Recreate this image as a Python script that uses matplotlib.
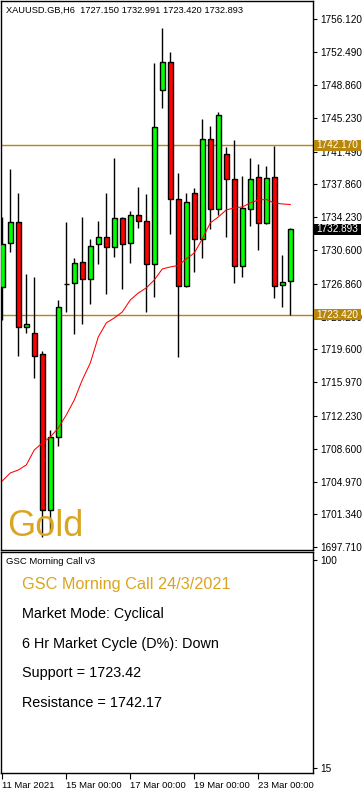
import matplotlib
matplotlib.use("Agg")
import matplotlib.pyplot as plt
from matplotlib.patches import Rectangle
import matplotlib.transforms as mtransforms

# ---------------- data ----------------
opens  = [1726.47, 1731.34, 1733.66, 1722.05, 1721.39, 1719.10, 1701.78, 1709.88, 1726.89, 1726.92,
          1729.24, 1727.36, 1731.23, 1732.01, 1730.90, 1734.11, 1731.34, 1734.44, 1733.81, 1729.02,
          1748.27, 1751.36, 1736.21, 1726.65, 1736.87, 1731.78, 1742.85, 1735.10, 1741.25, 1738.42,
          1728.80, 1735.10, 1738.71, 1733.55, 1738.64, 1726.70, 1727.150]
highs  = [1734.28, 1739.56, 1736.94, 1727.91, 1727.61, 1719.39, 1710.69, 1725.07, 1733.70, 1729.75,
          1734.28, 1731.85, 1733.84, 1736.94, 1740.81, 1734.20, 1734.91, 1737.57, 1736.83, 1751.25,
          1755.16, 1752.47, 1739.08, 1736.87, 1737.43, 1745.09, 1744.32, 1745.87, 1742.03, 1742.77,
          1738.79, 1740.81, 1740.11, 1739.89, 1742.14, 1730.05, 1732.991]
lows   = [1722.86, 1730.41, 1718.91, 1721.45, 1716.47, 1698.82, 1699.41, 1708.95, 1723.77, 1721.28,
          1722.38, 1724.66, 1729.09, 1725.73, 1729.86, 1726.29, 1729.20, 1733.07, 1723.77, 1725.43,
          1746.34, 1732.34, 1718.80, 1726.54, 1728.20, 1729.68, 1732.89, 1734.47, 1732.07, 1726.92,
          1727.65, 1733.29, 1730.60, 1733.44, 1725.32, 1724.33, 1723.420]
closes = [1731.23, 1733.66, 1722.08, 1722.38, 1718.91, 1701.78, 1709.88, 1724.26, 1726.89, 1729.13,
          1727.36, 1731.01, 1732.01, 1730.90, 1734.11, 1731.23, 1734.44, 1733.78, 1729.02, 1744.17,
          1751.36, 1736.21, 1726.65, 1735.88, 1731.78, 1742.85, 1735.10, 1745.57, 1738.42, 1728.80,
          1735.21, 1738.42, 1733.55, 1738.53, 1726.62, 1727.09, 1732.893]
ma_values = [1705.05, 1705.93, 1706.26, 1706.82, 1708.48, 1709.25, 1709.91, 1710.91, 1712.35, 1714.01,
             1716.22, 1718.10, 1720.98, 1722.53, 1723.08, 1723.74, 1725.07, 1725.84, 1726.40, 1727.28,
             1728.50, 1728.72, 1728.89, 1729.61, 1730.27, 1731.82, 1733.59, 1734.25, 1735.03, 1735.25,
             1735.36, 1735.80, 1736.13, 1736.19, 1735.80, 1735.69, 1735.63]

price_ticks = [1756.12, 1752.49, 1748.86, 1745.23, 1741.49, 1737.86, 1734.23, 1730.60, 1726.86,
               1723.23, 1719.60, 1715.97, 1712.23, 1708.60, 1704.97, 1701.34, 1697.71]
price_tick_labels = ["1756.120", "1752.490", "1748.860", "1745.230", "1741.490", "1737.860",
                     "1734.230", "1730.600", "1726.860", "1723.230", "1719.600", "1715.970",
                     "1712.230", "1708.600", "1704.970", "1701.340", "1697.710"]
x_tick_index = [0, 8, 16, 24, 32]
x_tick_labels = ["11 Mar 2021", "15 Mar 00:00", "17 Mar 00:00", "19 Mar 00:00", "23 Mar 00:00"]
support = 1723.42
resistance = 1742.17
last_close = 1732.893
header_text = "XAUUSD.GB,H6  1727.150 1732.991 1723.420 1732.893"
osc_ticks = [100, 15]
osc_tick_labels = ["100", "15"]
osc_name = "GSC Morning Call v3"
panel_title = "GSC Morning Call 24/3/2021"
panel_lines = ["Market Mode: Cyclical", "6 Hr Market Cycle (D%): Down",
               "Support = 1723.42", "Resistance = 1742.17"]
symbol_label = "Gold"

# ---------------- style ----------------
W, H = 363, 790
GOLD_LINE = "#B8860B"
GOLD_TEXT = "#DAA520"
UP = "#00FF00"
DOWN = "#FF0000"
FONT = "Liberation Sans"
plt.rcParams["font.family"] = [FONT, "DejaVu Sans"]
PX = 72.0 / 100.0  # one pixel in points

fig = plt.figure(figsize=(W / 100, H / 100), dpi=100)
fig.patch.set_facecolor("white")

def fx(px):
    return px / W

def fy(py):
    return 1 - py / H

# main price panel
left_px, right_px = 1, 313
main_top, main_bot = 1, 550
ax = fig.add_axes([fx(left_px), fy(main_bot), fx(right_px - left_px), (main_bot - main_top) / H])
# lower indicator panel
low_top, low_bot = 552, 773
ax2 = fig.add_axes([fx(left_px), fy(low_bot), fx(right_px - left_px), (low_bot - low_top) / H])

xlim = (-0.1625, 38.84)
for a in (ax, ax2):
    a.set_xlim(*xlim)
    a.set_facecolor("white")
    for s in a.spines.values():
        s.set_linewidth(1.0)
        s.set_color("black")

ax.set_ylim(1697.41, 1758.14)
ax2.set_ylim(12.8, 103.3)

# candles
body_w = 0.6
n = len(opens)
for i in range(n):
    o, h, l, c = opens[i], highs[i], lows[i], closes[i]
    ax.vlines(i, l, h, color="black", linewidth=1.0, zorder=2)
    if abs(c - o) < 1e-9:
        ax.hlines(o, i - body_w / 2, i + body_w / 2, color="black", linewidth=1.0, zorder=3)
    else:
        col = UP if c > o else DOWN
        ax.add_patch(Rectangle((i - body_w / 2, min(o, c)), body_w, abs(c - o),
                               facecolor=col, edgecolor="black", linewidth=1.0, zorder=3))

# moving average
ax.plot(range(len(ma_values)), ma_values, color="red", linewidth=0.75, zorder=4)

# support / resistance
ax.axhline(resistance, color=GOLD_LINE, linewidth=1.0, zorder=1)
ax.axhline(support, color=GOLD_LINE, linewidth=1.0, zorder=1)

# right price axis
ax.yaxis.tick_right()
ax.set_yticks(price_ticks)
ax.set_yticklabels(price_tick_labels)
ax.tick_params(axis="y", direction="out", length=3, width=0.8, pad=2, labelsize=7.2,
               colors="black")
ax.set_xticks([])

# price boxes
blend = mtransforms.blended_transform_factory(ax.transAxes, ax.transData)
box_w = 47 / (right_px - left_px)
box_h = 11 / 9.04
for val, fc in [(resistance, GOLD_LINE), (support, GOLD_LINE), (last_close, "black")]:
    ax.add_patch(Rectangle((1.003, val - box_h / 2), box_w, box_h, transform=blend,
                           facecolor=fc, edgecolor="none", clip_on=False, zorder=5))
    ax.text(1.003 + box_w / 2, val, f"{val:.3f}", transform=blend, ha="center", va="center",
            color="white", fontsize=7.2, clip_on=False, zorder=6)

# header
fig.text(fx(6), fy(10), header_text, fontsize=6.7, ha="left", va="center", color="black")

# Gold label
fig.text(fx(7), fy(536), symbol_label, fontsize=26, color=GOLD_TEXT, ha="left", va="baseline")

# lower panel
ax2.yaxis.tick_right()
ax2.set_yticks(osc_ticks)
ax2.set_yticklabels(osc_tick_labels)
ax2.tick_params(axis="y", direction="out", length=3, width=0.8, pad=2, labelsize=7.2)
ax2.set_xticks(x_tick_index)
ax2.set_xticklabels(x_tick_labels, ha="left")
ax2.tick_params(axis="x", direction="out", length=4, width=0.8, pad=1.5, labelsize=6.8)
for lab in ax2.get_xticklabels():
    lab.set_horizontalalignment("left")

fig.text(fx(6), fy(562), osc_name, fontsize=6.8, ha="left", va="center", color="black")
fig.text(fx(22), fy(588.5), panel_title, fontsize=11.7, ha="left", va="baseline", color=GOLD_TEXT)
for k, line in enumerate(panel_lines):
    fig.text(fx(22), fy(618 + 29.7 * k), line, fontsize=10.4, ha="left", va="baseline", color="black")

fig.savefig("out.png", dpi=100, facecolor="white")
